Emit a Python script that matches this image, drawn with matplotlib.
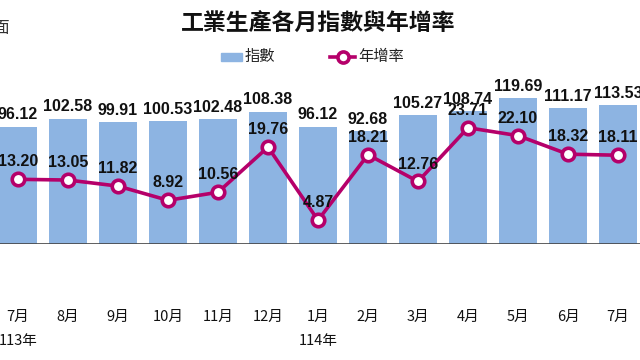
import matplotlib.pyplot as plt
import numpy as np

plt.rcParams['font.family'] = ['Noto Sans CJK TC', 'DejaVu Sans']

# data
months = ['7月', '8月', '9月', '10月', '11月', '12月', '1月', '2月', '3月', '4月', '5月', '6月', '7月']
index_vals = [96.12, 102.58, 99.91, 100.53, 102.48, 108.38, 96.12, 92.68, 105.27, 108.74, 119.69, 111.17, 113.53]
yoy_vals = [13.20, 13.05, 11.82, 8.92, 10.56, 19.76, 4.87, 18.21, 12.76, 23.71, 22.10, 18.32, 18.11]
year_labels = {0: '113年', 6: '114年'}

bar_color = '#8DB4E2'
line_color = '#B5006A'
num_font = ['Liberation Sans Narrow', 'Liberation Sans', 'DejaVu Sans']

fig = plt.figure(figsize=(6.4, 3.6), dpi=100)
ax = fig.add_axes([0, 0.322, 1, 0.428])
ax2 = ax.twinx()

x = np.arange(len(months))
ax.bar(x, index_vals, width=0.76, color=bar_color, zorder=1)
ax.set_xlim(-0.36, 12.44)
ax.set_ylim(0, 126)
ax2.set_ylim(0, 31.4)

for xi, v in zip(x, index_vals):
    ax.annotate(f'{v:.2f}', (xi, v), xytext=(0, 3), textcoords='offset points',
                ha='center', va='bottom', fontsize=11.5, fontweight='bold',
                family=num_font, color='#111111')

ax2.plot(x, yoy_vals, color=line_color, lw=2.6, marker='o', ms=9,
         mfc='white', mec=line_color, mew=2.6, zorder=3)
for xi, v in zip(x, yoy_vals):
    ax2.annotate(f'{v:.2f}', (xi, v), xytext=(0, 12.5), textcoords='offset points',
                 ha='center', va='center', fontsize=11.5, fontweight='bold',
                 family=num_font, color='#111111')

# baseline and cleanup
for a in (ax, ax2):
    for s in a.spines.values():
        s.set_visible(False)
    a.set_yticks([])
ax.axhline(0, color='#444444', lw=1.2, zorder=2)
ax.set_xticks([])

# month labels
for xi, m in zip(x, months):
    ax.text(xi, -0.47, m, transform=ax.get_xaxis_transform(), ha='center', va='center',
            fontsize=10.5, color='#111111')
for i, y in year_labels.items():
    ax.text(i, -0.63, y, transform=ax.get_xaxis_transform(), ha='center', va='center',
            fontsize=10.5, color='#111111')

# title and legend
fig.text(0.497, 0.935, '工業生產各月指數與年增率', ha='center', va='center',
         fontsize=16.5, fontweight='bold', color='#111111')
fig.text(-0.012, 0.92, '面', ha='left', va='center', fontsize=12, color='#333333')

fig.patches.append(plt.Rectangle((221 / 640, 1 - 61 / 360), 21 / 640, 8 / 360,
                                 transform=fig.transFigure, color=bar_color))
fig.text(245 / 640, 1 - 57 / 360, '指數', ha='left', va='center', fontsize=11, color='#222222')
fig.lines.append(plt.Line2D([330 / 640, 355 / 640], [1 - 57 / 360, 1 - 57 / 360],
                            transform=fig.transFigure, color=line_color, lw=2.6))
fig.lines.append(plt.Line2D([342.5 / 640], [1 - 57 / 360], transform=fig.transFigure,
                            color=line_color, marker='o', ms=8, mfc='white', mew=2.6, lw=0))
fig.text(358 / 640, 1 - 57 / 360, '年增率', ha='left', va='center', fontsize=11, color='#222222')

fig.savefig('out.png', dpi=100)
